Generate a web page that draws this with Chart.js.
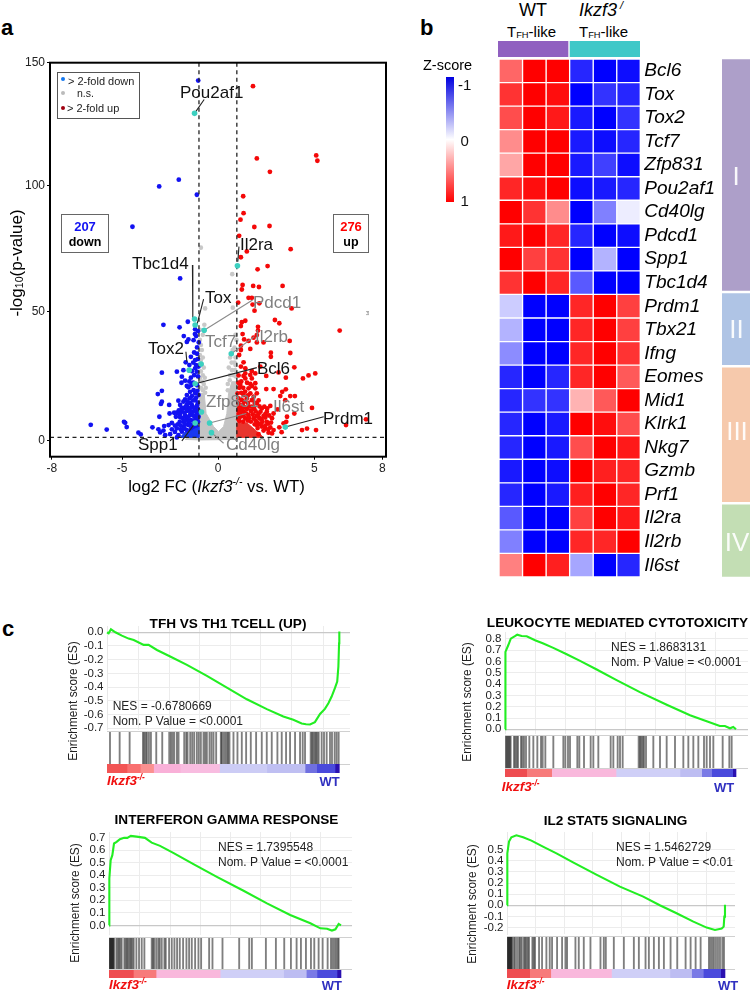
<!DOCTYPE html>
<html><head><meta charset="utf-8">
<style>
html,body{margin:0;padding:0;background:#fff;width:750px;height:991px;overflow:hidden}
canvas{position:absolute;display:block}
.t{position:absolute;white-space:nowrap;line-height:1;font-family:"Liberation Sans",Arial,sans-serif}
sup,sub{font-size:.62em;line-height:0}
sub{vertical-align:-.18em}
.box{position:absolute;box-sizing:border-box}
</style>
<script src="https://cdn.jsdelivr.net/npm/chart.js@4/dist/chart.umd.min.js"></script>
</head><body>
<script>
/* ---------- panel a: volcano values (log2 FC, -log10 p) ---------- */
const downGenes=[[-1.04,142.9],[-2.05,103.6],[-3.07,100.9],[-1.11,97.6],[-4.46,84.9],[-1.98,64.4],[-2.85,46],[-2.01,45],[-1.58,47.2],[-1.2,44.2],[-1.21,42.3],[-1.15,41.5],[-1.79,41.5],[-1.55,40.2],[-1.63,39.2],[-1.28,39.9],[-1.01,39],[-1.42,33.3],[-1.06,32.4],[-1.69,31.1],[-1.15,30],[-1.02,29.4],[-1.2,28.7],[-1.81,28],[-2.15,27.4],[-2.93,27],[-1.37,27.6],[-1.11,27.4],[-1.89,25.4],[-1.72,23.8],[-1.42,25],[-1.91,23],[-1.63,21.7],[-1.55,21.2],[-1.28,20.1],[-1.08,19.8],[-2.93,19.8],[-3.14,18.5],[-1.46,19.4],[-1.63,18.1],[-1.2,18.8],[-1.02,18.1],[-1.37,17.7],[-1.49,16.8],[-1.72,16.4],[-2.07,15.9],[-2.93,15.5],[-2.98,14.6],[-1.81,15.5],[-1.2,16.1],[-1.06,15.1],[-2.55,14.2],[-1.98,14.2],[-1.63,14.2],[-1.37,14.2],[-1.55,12.8],[-1.81,12.8],[-1.15,13.2],[-2.53,10.8],[-2.29,11.1],[-2.15,11.1],[-1.89,11.5],[-1.63,11.8],[-1.32,11.5],[-1.06,11.5],[-3.06,9.5],[-1.46,10.2],[-1.72,9.8],[-1.98,9.3],[-1.63,8.5],[-1.2,9.3],[-1.02,9.5],[-1.42,8.2],[-1.81,7.5],[-2.41,7.1],[-2.58,6.2],[-2.81,5.8],[-3.42,5.3],[-3.11,4.5],[-2.85,4],[-2.15,4.9],[-2.41,4.5],[-1.81,5.6],[-1.55,6.2],[-2.5,2.6],[-2.76,2.2],[-3.02,3.3],[-4.15,3.2],[-4.03,2.5],[-4.9,7.5],[-4.84,7.1],[-4.76,5.4],[-6.63,6.3],[-5.8,4.4],[-2.07,2.2],[-2.15,1.3],[-1.89,3.6],[-1.63,4.2],[-1.28,5.6],
[-1.1,22],[-1.3,23],[-1.5,23.5],[-1.05,25.5],[-1.25,26],[-1.4,22],[-1.15,17],[-1.3,16],[-1.45,15],[-1.6,15.5],[-1.1,14],[-1.25,13],[-1.45,13],[-1.7,13.5],[-1.9,13],[-2.05,12],[-1.05,12.5],[-1.2,11.8],[-1.45,11.5],[-1.75,11],[-2,10.5],[-1.1,10.5],[-1.3,10],[-1.55,9.5],[-1.85,9],[-2.2,9.5],[-1.1,8.5],[-1.3,8],[-1.55,7.5],[-1.75,8],[-2,7.5],[-2.1,6.5],[-1.05,7.5],[-1.25,6.8],[-1.45,6.5],[-1.7,6.5],[-1.95,6],[-2.25,6],[-1.15,6],[-1.4,5],[-1.75,4.8],[-1.95,4.5],[-2.25,3.5],[-1.1,37],[-1.25,35],[-1.1,34.5],[-1.3,31],[-1.2,32],[-1.5,30],[-1.05,43.5]];
const upGenes=[[1.81,140.7],[5.1,113.2],[5.16,111.1],[2.01,112],[2.69,106.7],[1.3,97],[1.32,90.3],[1.16,87.7],[1.88,84.8],[2.67,85.2],[1.09,81.3],[1.49,75.1],[3.77,76],[1.18,72.8],[2.05,68],[2.57,69.3],[1.27,61.8],[1.23,60],[1.82,61.4],[2.12,61],[3.35,61.4],[1.58,56.7],[1.75,56.7],[1.04,54.8],[1.79,54],[2.14,54.5],[3.82,52.5],[1.89,51.6],[1.41,47.6],[1.23,47],[1.18,45.5],[2.95,47.9],[3.18,46.6],[6.32,43.7],[2.07,45.2],[2.07,43.7],[1.27,42.3],[2.01,41.9],[1.84,40.9],[1.58,39.6],[1.18,37.7],[1.35,40.2],[2.01,39],[2.36,39],[3.72,39.6],[1.67,36.4],[1.18,36],[1.09,34],[2.74,34.9],[2.74,33.3],[3.75,34.8],[1.32,31.1],[1.18,29.4],[2.19,29.4],[3.96,29.1],[1.41,28.7],[1.75,27.6],[1.41,26.7],[1.06,25.9],[1.32,25.7],[1.67,26.1],[1.93,26.7],[3.14,27.1],[2.5,25.7],[1.75,24.7],[1.41,24.7],[3.52,25],[5.05,26.7],[4.7,25.9],[4.41,24.7],[1.15,22.1],[1.67,22.5],[1.93,22.8],[1.58,20.8],[1.93,20.8],[1.75,21.7],[2.5,20.5],[2.88,20.5],[3.52,20.4],[3.33,19.4],[1.01,18.8],[1.32,18.1],[1.67,18.8],[2.01,18.8],[1.06,16.8],[1.23,16.1],[1.49,16.8],[1.75,16.1],[3.23,17.7],[3.75,17.7],[3.99,17.7],[3.49,16.1],[1.06,14.8],[1.28,14.2],[2.01,14.8],[1.75,13.5],[2.71,13.8],[3.09,12.4],[4.88,13],[3.96,10.8],[1.15,12.8],[1.49,12.6],[1.88,12.6],[2.27,12.8],[2.53,11.5],[2.88,10.8],[1.32,11.5],[1.06,10.6],[1.58,10.2],[2.1,10.6],[2.36,9.8],[2.8,8.9],[3.58,9.5],[1.15,9.5],[1.41,8.9],[1.84,8.9],[2.15,8.9],[2.53,7.5],[3.4,6.9],[3.54,7.5],[4.36,4.2],[4.62,4.8],[5.09,4.2],[3.3,3.4],[2.71,5.3],[2.45,4.9],[2.88,4.2],[2.36,4],[2.62,3.2],[2.8,2.9],[2.1,2.6],[2.01,6.2],[2.27,5.6],[3.18,5.3],[6.65,6.2],[7.69,8.5],
[1.1,21],[1.3,21],[1.5,23],[1.2,23.5],[1.05,23],[1.4,19.5],[1.2,19],[1.55,18],[1.85,17.5],[2.1,16],[1.35,15.5],[1.55,15],[1.9,15],[1.1,13.2],[1.35,13.3],[1.6,13.5],[2.15,13.6],[2.4,13.5],[2.55,12.8],[1.05,12],[1.25,12.3],[1.7,11.8],[1.95,11.6],[2.2,11.5],[2.45,10.5],[1.15,11],[1.45,10.8],[1.8,10.4],[2,9.8],[2.25,8.5],[2.45,9.2],[2.65,10],[1.05,8.5],[1.3,9.8],[1.6,9],[1.95,8],[2.3,7.5],[2.6,6.8],[2.75,7.2],[1.7,7.6],[2.05,7.2],[1.55,8],[2.2,6.5],[2.45,6],[1.9,6.5],[2.6,4.5],[2.05,5],[1.1,7.8],[1.3,7.6]];
const nsGenes=[[-0.9,76.6],[0.73,66.1],[-0.68,52.5],[0.76,52.8],[-0.95,44],[-0.72,46],[-0.8,42],[-0.95,40],[-0.9,38],[-0.85,36],[-0.95,34],[-0.8,33],[-0.9,32],[-0.85,30],[-0.75,29],[-0.9,27.5],[-0.8,26],[-0.7,25],[-0.95,25],[-0.85,23.5],[-0.75,22.5],[-0.65,21],[-0.9,21],[-0.8,20],[-0.68,19],[0.62,33],[0.75,36],[0.85,37],[0.9,33],[0.7,31],[0.85,31],[0.55,29],[0.72,28],[0.88,28],[0.62,26],[0.8,26],[0.92,25.5],[0.5,22.5],[0.6,24],[0.5,20],[0.9,30],[0.95,40],[0.9,42]];
const nsDenseOutline=[[-0.99,18.8],[-0.73,18.8],[-0.63,10.8],[-0.24,5.6],[0.02,3.6],[0.28,5.6],[0.45,10.8],[0.54,18.8],[0.71,23.4],[0.97,23.4],[0.97,0.5],[-0.94,0.3],[-1.72,0.5],[-0.99,4.9],[-0.99,18.8]];
const downDenseOutline=[[-1.98,1.3],[-1.63,4.2],[-1,5.6],[-1,1.3],[-1.98,1.3]];
const upDenseOutline=[[0.97,6.9],[1.49,7.1],[1.93,4.2],[2.36,1.3],[0.97,1.3],[0.97,6.9]];
const labelledGenes=[[-1.23,129.9],[1,69.4],[-1.2,45.9],[-1.23,48.3],[-0.73,43.8],[-0.89,30.4],[0.68,34.5],[-1.51,28],[-1.2,22.6],[-0.87,11.4],[-0.45,7],[3.49,5.4],[-1.2,7],[-0.35,3.2]];
const blackLeaders=[[[-0.73,135.4],[-1.23,129.9]],[[1.08,77],[1.02,71]],[[-1.34,69.7],[-1.32,48.5]],[[-0.76,56.2],[-1.11,45.9]],[[-1.68,35.3],[-1.63,31.3]],[[2.01,29],[-1.2,22.6]],[[5.49,9.5],[3.49,5.4]],[[-1.89,-0.1],[-1.2,7]]];
const greyLeaders=[[[1.79,55.8],[-0.73,43.8]],[[1.88,41.3],[0.68,34.5]],[[1.46,10.8],[-0.45,7]],[[0.28,-1],[-0.35,3.2]]];
const foldCutoffs=[-1,0.97];
const pCutoff=1.3;
const xTickValues=[-8.65,-5,0,5,8.54];
const xTickLabels=['-8','-5','0','5','8'];
const yTickValues=[0,51.2,101.2,150];
const yTickLabels=['0','50','100','150'];

/* ---------- panel b: heat map z-scores ---------- */
const genes=['Bcl6','Tox','Tox2','Tcf7','Zfp831','Pou2af1','Cd40lg','Pdcd1','Spp1','Tbc1d4','Prdm1','Tbx21','Ifng','Eomes','Mid1','Klrk1','Nkg7','Gzmb','Prf1','Il2ra','Il2rb','Il6st'];
const zScores=[[.6,1,1,-.85,-1,-.95],[.8,1,.95,-1,-.8,-.85],[.7,1,.9,-.9,-1,-.8],[.45,1,1,-.9,-.95,-.85],[.35,1,1,-.9,-.75,-.95],[.85,.95,1,-.95,-.9,-.85],[1,.8,.45,-1,-.5,-.07],[.9,1,.85,-.85,-1,-.95],[1,.75,.8,-1,-.3,-1],[.8,1,.85,-.65,-1,-1],[-.2,-1,-1,.85,1,.75],[-.3,-1,-1,.85,1,.75],[-.45,-1,-1,.85,1,.8],[-.85,-1,-.85,.85,1,.65],[-.85,-.8,-.8,.3,.65,1],[-.85,-1,-.9,1,.95,.7],[-.85,-1,-.9,.7,1,.9],[-.9,-1,-.95,1,.88,.85],[-.85,-1,-.9,.88,1,.85],[-.65,-1,-1,.75,1,.9],[-.5,-1,-1,.85,.85,1],[.5,1,.88,-.35,-1,-.85]];
const sampleGroups=[3,3];
const clusterNames=['I','II','III','IV'];
const clusterSpans=[9.9,3.14,5.8,3.16];
const zBarLabels=['-1','0','1'];
const zBarTicks=[-.86,.03,1];

/* ---------- panel c: GSEA running scores, hits, rank strip ---------- */
const es1Rank=[0,.7,1.7,3.6,6.4,9.3,11.5,15.8,17.9,21.5,27.2,34.4,43,51.6,60.2,68.8,75.9,80.2,83.8,85.7,87.4,89.5,91.7,93.8,95.3,96.7,98.1,99.1,99.6,99.9,100];
const es1Score=[0,-.007,.022,0,-.024,-.046,-.056,-.092,-.092,-.129,-.177,-.238,-.318,-.404,-.489,-.561,-.615,-.639,-.666,-.671,-.673,-.656,-.596,-.559,-.518,-.469,-.408,-.36,-.25,-.08,.005];
const es2Rank=[0,0,.14,.43,1.4,2.5,4.3,5.3,7.2,9.4,13,16.6,20.9,26.7,32.5,39.7,48.3,58.4,70,80.1,87.3,93,95.2,97.4,98.8,100];
const es2Score=[0,.318,.524,.685,.744,.803,.824,.838,.826,.824,.788,.759,.721,.665,.606,.529,.435,.329,.218,.124,.071,.029,.029,.009,.021,0];
const es3Rank=[0,0,.29,.72,1.44,2.16,3.3,4.7,6.5,7.9,9.4,11.9,15.5,18.4,22,27.7,36.4,46.5,58,68.1,78.1,86.8,91.1,94,96.1,97.6,99,100];
const es3Score=[0,.122,.374,.52,.56,.653,.666,.687,.698,.698,.714,.708,.698,.66,.634,.578,.488,.387,.276,.175,.082,.016,-.024,-.027,-.042,-.032,.011,0];
const es4Rank=[0,0,.3,.92,2,4.3,7.4,11.2,16.5,22.7,30.3,41,51.8,62.5,70.1,77.8,85.5,91.6,95.4,98.5,99.4,99.7,100];
const es4Score=[0,.288,.468,.574,.613,.631,.613,.583,.529,.468,.387,.276,.168,.078,0,-.072,-.147,-.201,-.222,-.21,-.192,-.102,.006];
const es1Ticks=[0,-.1,-.2,-.3,-.4,-.5,-.6,-.7];
const es2Ticks=[0,.1,.2,.3,.4,.5,.6,.7,.8];
const es3Ticks=[0,.1,.2,.3,.4,.5,.6,.7];
const es4Ticks=[-.2,-.1,0,.1,.2,.3,.4,.5];
const hits1=[9,38,68,108,112,116,120,126,132,148,166,187,192,197,202,210,215,232,238,242,250,256,262,270,276,282,290,295,300,308,314,320,328,342,345,350,355,360,364,368,380,392,405,418,432,448,465,480,495,512,525,538,550,565,580,588,595,612,616,620,624,628,632,636,645,652,660,670,676,684,690,696];
const hits2=[2,5,8,11,14,17,27,31,35,39,48,52,57,63,73,85,97,108,113,121,145,175,181,189,195,217,223,237,257,265,280,317,325,338,345,353,401,405,409,413,417,423,445,465,485,510,535,550,565,580,597,605,615,625,653,673,680];
const hits3=[1,3,5,7,9,11,13,15,22,26,30,34,38,46,50,54,58,62,66,70,74,82,90,98,106,128,132,136,142,148,152,158,166,170,180,188,196,204,212,222,232,240,248,258,268,276,300,310,340,390,420,428,470,500,525,545,562,575,590,605,615,628,640,655,665,670,675,680,685,688];
const hits4=[1,3,5,7,9,11,13,15,20,24,30,36,40,44,50,54,58,62,66,76,80,84,96,105,118,128,135,150,165,175,180,205,215,230,250,280,290,296,320,350,380,395,415,425,440,455,470,490,510,535,550,565,580,605,610,615,620,626,632,638,645,650];
const strip1=[60,40,40,80,118,142,115,35,55,13];
const strip1Colors=['#F25555','#F97070','#FB9090','#F9B0D8','#F8BCE0','#CCCCF5','#BFBFF2','#7070E0','#4A4ADC','#2A10B0'];
const strip2=[65,75,193,192,65,30,63,10];
const strip3=[73,68,192,190,68,32,60,12];
const strip4=[68,63,182,175,65,35,52,13];
const stripColors=['#EE4C50','#F77A7A','#F9B8DC','#CFCFF7','#BDBDF2','#7A7AE6','#4A4ADC','#2A10B0'];

/* ---------- helpers ---------- */
const FONT='"Liberation Sans",Arial,sans-serif';
Chart.defaults.font.family=FONT;
Chart.defaults.animation=false;
Chart.defaults.responsive=false;
Chart.defaults.maintainAspectRatio=false;
Chart.defaults.plugins.legend.display=false;
Chart.defaults.plugins.tooltip.enabled=false;

function cv(l,t,w,h){const c=document.createElement('canvas');c.width=Math.round(w);c.height=Math.round(h);
  c.style.left=l+'px';c.style.top=t+'px';c.style.width=Math.round(w)+'px';c.style.height=Math.round(h)+'px';document.body.appendChild(c);return c;}
function T(html,x,y,o={}){const d=document.createElement('div');d.className='t';d.innerHTML=html;
  const ax=o.align==='c'?'-50%':o.align==='r'?'-100%':'0';
  d.style.cssText+=`left:${x}px;top:${y}px;font-size:${o.size||12}px;color:${o.color||'#000'};font-weight:${o.bold?'bold':'normal'};font-style:${o.italic?'italic':'normal'};transform:translate(${ax},-50%) ${o.rot?`rotate(${o.rot}deg)`:''} ${o.sx?`scaleX(${o.sx})`:''};`;
  document.body.appendChild(d);}
const pts=a=>a.map(p=>({x:p[0],y:p[1]}));
function fixW(w){return s=>{s.width=w;s.paddingTop=0;s.paddingBottom=0;};}
function fixH(h){return s=>{s.height=h;s.paddingLeft=0;s.paddingRight=0;};}

/* ---------- volcano ---------- */
const frame={id:'frame',afterDraw(c){const a=c.chartArea,x=c.ctx;x.save();x.strokeStyle='#000';x.lineWidth=2;x.strokeRect(a.left,a.top,a.width,a.height);x.restore();}};
const vds=[];
const dot=(data,color,r,order)=>({data:pts(data),backgroundColor:color,borderColor:color,pointRadius:r,pointBorderWidth:0,showLine:false,order});
vds.push(dot(labelledGenes,'#3CD0C0',2.8,1));
blackLeaders.forEach(l=>vds.push({data:pts(l),showLine:true,pointRadius:0,borderColor:'#222',borderWidth:1.1,order:2}));
greyLeaders.forEach(l=>vds.push({data:pts(l),showLine:true,pointRadius:0,borderColor:'#8a8a8a',borderWidth:1.1,order:2}));
foldCutoffs.forEach(v=>vds.push({data:[{x:v,y:-6.35},{x:v,y:150}],showLine:true,pointRadius:0,borderColor:'#222',borderWidth:1.3,borderDash:[4,3.5],order:3}));
vds.push({data:[{x:-8.75,y:pCutoff},{x:8.75,y:pCutoff}],showLine:true,pointRadius:0,borderColor:'#222',borderWidth:1.3,borderDash:[4,3.5],order:3});
vds.push(dot(downGenes,'#1212F2',2.4,4));
vds.push(dot(upGenes,'#F40808',2.4,4));
const blob=(data,color,order)=>({data:pts(data),showLine:true,fill:'shape',backgroundColor:color,borderColor:color,borderWidth:1,pointRadius:0,tension:0,order});
vds.push(blob(downDenseOutline,'#1838F0',5));
vds.push(blob(upDenseOutline,'#E8352E',5));
vds.push(dot(nsGenes,'#C8C8C8',2.3,6));
vds.push(blob(nsDenseOutline,'#C4C4C4',7));
new Chart(cv(0,50,398,430),{type:'scatter',data:{datasets:vds},plugins:[frame],options:{
  layout:{padding:{left:0,right:12,top:12.7,bottom:0}},
  scales:{
    x:{type:'linear',min:-8.75,max:8.73,afterFit:fixH(23.3),afterBuildTicks:s=>{s.ticks=xTickValues.map(v=>({value:v}));},
       grid:{drawOnChartArea:false,drawTicks:true,tickLength:3,color:'#000'},border:{display:false},
       ticks:{autoSkip:false,maxRotation:0,padding:2,color:'#222',font:{size:12},callback:(v,i)=>xTickLabels[i]}},
    y:{type:'linear',min:-6.35,max:150,afterFit:fixW(50),afterBuildTicks:s=>{s.ticks=yTickValues.map(v=>({value:v}));},
       grid:{drawOnChartArea:false,drawTicks:true,tickLength:3,color:'#000'},border:{display:false},
       ticks:{autoSkip:false,padding:2,color:'#222',font:{size:12},callback:(v,i)=>yTickLabels[i]}}
  }}});

/* ---------- heat map ---------- */
function zColor(z){const a=1-Math.abs(z),v=Math.round(255*a);return z>=0?`rgb(255,${v},${v})`:`rgb(${v},${v},255)`;}
const hmSets=[0,1,2,3,4,5].map(j=>({data:genes.map(()=>1),backgroundColor:zScores.map(r=>zColor(r[j])),borderColor:'rgba(255,255,255,.75)',borderWidth:1,borderSkipped:false,barPercentage:1,categoryPercentage:1}));
new Chart(cv(498.7,58.7,252,518),{type:'bar',data:{labels:genes,datasets:hmSets},options:{indexAxis:'y',
  layout:{padding:0},
  scales:{x:{stacked:true,display:false,min:0,max:6},
    y:{stacked:true,position:'right',afterFit:fixW(110.7),grid:{display:false,drawTicks:false},border:{display:false},
       ticks:{autoSkip:false,padding:4,color:'#000',font:{size:19,style:'italic'}}}}}});

/* sample bar */
new Chart(cv(498,41,142,16),{type:'bar',data:{labels:[''],datasets:[
  {data:[sampleGroups[0]],backgroundColor:'#9060C0',borderColor:'#fff',borderWidth:{right:1},borderSkipped:false,barPercentage:1,categoryPercentage:1},
  {data:[sampleGroups[1]],backgroundColor:'#40C8C8',borderColor:'#fff',borderWidth:{left:1},borderSkipped:false,barPercentage:1,categoryPercentage:1}]},
  options:{indexAxis:'y',scales:{x:{stacked:true,display:false,min:0,max:6},y:{stacked:true,display:false}}}});

/* cluster bar */
const clusterColors=['#AD9FC9','#AFC4E5','#F6C9AC','#C3DEB4'];
new Chart(cv(722,58,28,520),{type:'bar',data:{labels:[''],datasets:clusterSpans.map((n,i)=>({data:[n],backgroundColor:clusterColors[i],borderColor:'#fff',borderWidth:{top:1.6,bottom:1.6},borderSkipped:false,barPercentage:1,categoryPercentage:1}))},
  options:{scales:{x:{stacked:true,display:false},y:{stacked:true,display:false,reverse:true,min:0,max:22}}}});

/* colour key */
new Chart(cv(446,70,40,139),{type:'bar',data:{labels:[''],datasets:[{data:[[-1,1]],barPercentage:1,categoryPercentage:1,borderWidth:0,
  backgroundColor:c=>{const a=c.chart.chartArea;if(!a)return '#fff';const g=c.chart.ctx.createLinearGradient(0,a.top,0,a.bottom);g.addColorStop(0,'#0000E0');g.addColorStop(.5,'#fff');g.addColorStop(1,'#FF0000');return g;}}]},
  options:{layout:{padding:{top:7,bottom:7}},scales:{x:{display:false},
    y:{position:'right',reverse:true,min:-1,max:1,afterFit:fixW(32),afterBuildTicks:s=>{s.ticks=zBarTicks.map(v=>({value:v}));},
       grid:{display:false,drawTicks:false},border:{display:false},
       ticks:{autoSkip:false,padding:4,color:'#111',font:{size:15},crossAlign:'center',callback:(v,i)=>zBarLabels[i]}}}}});

/* ---------- GSEA panels ---------- */
const rugEdges={id:'rugEdges',afterDraw(c){const a=c.chartArea,x=c.ctx;x.save();x.strokeStyle='#d0d0d0';x.lineWidth=1;x.beginPath();x.moveTo(a.left,a.top+.5);x.lineTo(a.right,a.top+.5);x.moveTo(a.left,a.bottom-.5);x.lineTo(a.right,a.bottom-.5);x.stroke();x.restore();}};
function gsea(p){
  const xmax=100*(p.right-p.left)/(p.end-p.left);
  const ymax=(p.y0-p.top)/p.unit, ymin=-(p.bottom-p.y0)/p.unit;
  new Chart(cv(p.left-50,p.top-10,p.right-p.left+52,p.bottom-p.top+20),{type:'scatter',
    data:{datasets:[{data:p.rank.map((r,i)=>({x:r,y:p.score[i]})),showLine:true,pointRadius:0,borderColor:'#22EE22',borderWidth:2.1,tension:0,clip:false}]},
    options:{layout:{padding:{top:10,bottom:10,right:2}},scales:{
      x:{type:'linear',min:0,max:xmax,afterFit:fixH(0),afterBuildTicks:s=>{const t=[];for(const v of p.vgrid)t.push({value:v});s.ticks=t;},
         grid:{color:'#ececec',drawTicks:false},border:{display:false},ticks:{display:false}},
      y:{type:'linear',min:ymin,max:ymax,afterFit:fixW(50),afterBuildTicks:s=>{s.ticks=p.ticks.map(v=>({value:v}));},
         grid:{color:c=>Math.abs(c.tick.value)<1e-6?'#c8c8c8':'#ececec',lineWidth:c=>Math.abs(c.tick.value)<1e-6?1.2:1,drawTicks:false},border:{color:'#e8e8e8'},
         ticks:{autoSkip:false,padding:3.5,color:'#222',font:{size:11.5},callback:v=>v.toFixed(1)}}}}});
  const units=p.strip.reduce((a,b)=>a+b,0), umax=units*(p.right-p.left)/(p.end-p.left);
  new Chart(cv(p.left,p.rugTop,p.right-p.left,p.rugBottom-p.rugTop),{type:'bar',plugins:[rugEdges],
    data:{datasets:[{data:p.hits.map(h=>({x:h,y:1})),barThickness:1.2,backgroundColor:'rgba(0,0,0,.5)',borderWidth:0}]},
    options:{scales:{
      x:{type:'linear',min:0,max:umax,display:false,offset:false},
      y:{type:'linear',min:0,max:1,display:false}}}});
  new Chart(cv(p.left,p.rugBottom,p.right-p.left,p.stripBottom-p.rugBottom),{type:'bar',
    data:{labels:[''],datasets:p.strip.map((w,i)=>({data:[w],backgroundColor:p.colors[i],barPercentage:1,categoryPercentage:1,borderWidth:0}))},
    options:{indexAxis:'y',scales:{x:{stacked:true,display:false,min:0,max:umax},y:{stacked:true,display:false}}}});
}
gsea({left:106.7,right:350,end:339.3,top:626,bottom:730,y0:632.3,unit:137,rank:es1Rank,score:es1Score,ticks:es1Ticks,vgrid:[13.5,26.7,40,53,66,79.5,93],rugTop:730.7,rugBottom:764.3,stripBottom:773.3,hits:hits1,strip:strip1,colors:strip1Colors});
gsea({left:505,right:748,end:736,top:631.7,bottom:734,y0:729.3,unit:113.3,rank:es2Rank,score:es2Score,ticks:es2Ticks,vgrid:[13.3,26.3,39.3,52.3,65.3,78.3,91.3],rugTop:735.3,rugBottom:769.3,stripBottom:777.3,hits:hits2,strip:strip2,colors:stripColors});
gsea({left:109,right:351.7,end:340.7,top:831.7,bottom:935,y0:925.3,unit:125.7,rank:es3Rank,score:es3Score,ticks:es3Ticks,vgrid:[13.3,26.3,39.3,52.3,65.3,78.3,91.3],rugTop:936.7,rugBottom:970,stripBottom:978.3,hits:hits3,strip:strip3,colors:stripColors});
gsea({left:507.3,right:735,end:725,top:832,bottom:934,y0:905.3,unit:111,rank:es4Rank,score:es4Score,ticks:es4Ticks,vgrid:[13.3,26.3,39.3,52.3,65.3,78.3,91.3],rugTop:935.7,rugBottom:969.3,stripBottom:978.3,hits:hits4,strip:strip4,colors:stripColors});

/* ---------- text ---------- */
T('a',1,28,{size:22,bold:true});T('b',420,28,{size:22,bold:true});T('c',2,629,{size:22,bold:true});
/* volcano labels */
T('-log<sub>10</sub>(p-value)',16,263,{size:17,align:'c',rot:-90});
T('log2 FC (<i>Ikzf3<sup>-/-</sup></i> vs. WT)',216.5,487,{size:16.8,align:'c'});
[['Pou2af1',180,92,0],['Il2ra',240,244,0],['Tbc1d4',132,263,0],['Tox',205,297,0],['Pdcd1',253,302,1],['Tcf7',205,341,1],['Il2rb',255,336,1],['Tox2',148,348,0],['Bcl6',257,368,0],['Zfp831',206,401,1],['Il6st',273,406,1],['Prdm1',323,418,0],['Spp1',138,444,0],['Cd40lg',226,444,1]].forEach(a=>T(a[0],a[1],a[2],{size:17,color:a[3]?'#808080':'#111'}));
/* legend and count boxes */
function box(l,t,w,h,c){const d=document.createElement('div');d.className='box';d.style.cssText+=`left:${l}px;top:${t}px;width:${w}px;height:${h}px;border:1px solid ${c};`;document.body.appendChild(d);}
function ldot(x,y,c){const d=document.createElement('div');d.className='box';d.style.cssText+=`left:${x-2}px;top:${y-2}px;width:4px;height:4px;border-radius:50%;background:${c};`;document.body.appendChild(d);}
box(57,72,83,47,'#555');
ldot(63,79,'#1478F0');ldot(63,93,'#BBBBBB');ldot(63,108,'#A00010');
T('&gt; 2-fold down',68,81,{size:11,color:'#222'});T('n.s.',77,93,{size:10.5,color:'#222'});T('&gt; 2-fold up',67,108,{size:11,color:'#222'});
box(61,214,48,39,'#666');box(333,214,36,39,'#666');
T('207',85,226,{size:13,bold:true,color:'#1212F2',align:'c'});T('down',85,242,{size:12.5,bold:true,align:'c'});
T('276',351,226,{size:13,bold:true,color:'#F00',align:'c'});T('up',351,242,{size:12.5,bold:true,align:'c'});
T('PI',367,313,{size:4,rot:90,align:'c',color:'#333'});
/* heat map text */
T('WT',533,10,{size:18,align:'c'});T('Ikzf3<sup> /</sup>',579,10,{size:18,italic:true});
T('T<sub>FH</sub>-like',507,31,{size:15});T('T<sub>FH</sub>-like',579,31,{size:15});
T('Z-score',423,65,{size:14.5});
clusterNames.forEach((n,i)=>T(n,[736,736.5,737,737][i],[176,329,431,542][i],{size:26,color:'rgba(255,255,255,.92)',align:'c'}));
/* GSEA text */
const ttl={size:13.6,bold:true,align:'c'};
T('TFH VS TH1 TCELL (UP)',228,624,ttl);T('LEUKOCYTE MEDIATED CYTOTOXICITY',617.5,623,ttl);T('INTERFERON GAMMA RESPONSE',226.5,820,ttl);T('IL2 STAT5 SIGNALING',615.5,821,ttl);
const es={size:13.5,rot:-90,sx:.88,align:'c',color:'#222'};
T('Enrichment score (ES)',73,701,es);T('Enrichment score (ES)',467,702,es);T('Enrichment score (ES)',75,903,es);T('Enrichment score (ES)',472,904,es);
const ne={size:12,color:'#222'};
T('NES = -0.6780669',112.7,706,ne);T('Nom. P Value = &lt;0.0001',112.7,721,ne);
T('NES = 1.8683131',611,647,ne);T('Nom. P Value = &lt;0.0001',611,662,ne);
T('NES = 1.7395548',218,847,ne);T('Nom. P Value = &lt;0.0001',218,862,ne);
T('NES = 1.5462729',616,847,ne);T('Nom. P Value = &lt;0.01',616,862,ne);
const ik={size:13.5,bold:true,italic:true,color:'#F01010'},wt={size:13,bold:true,color:'#3030C0'};
T('Ikzf3<sup>-/-</sup>',107,781,ik);T('WT',319.5,781,wt);
T('Ikzf3<sup>-/-</sup>',501.7,787,ik);T('WT',714,787,wt);
T('Ikzf3<sup>-/-</sup>',109,985,ik);T('WT',321.7,985,wt);
T('Ikzf3<sup>-/-</sup>',506.7,985,ik);T('WT',718,985,wt);
</script>
</body></html>
